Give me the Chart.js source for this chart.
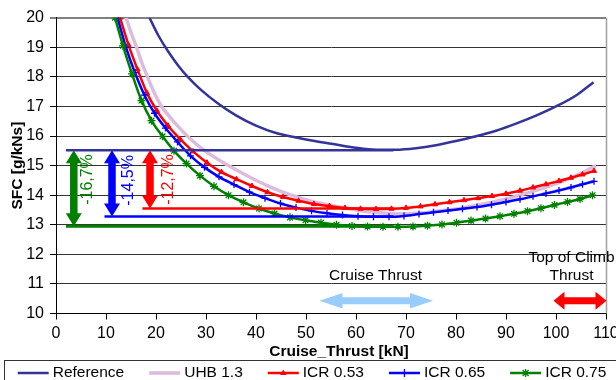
<!DOCTYPE html>
<html><head><meta charset="utf-8">
<script src="https://cdn.jsdelivr.net/npm/chart.js@4.4.0/dist/chart.umd.min.js"></script>
<style>html,body{margin:0;padding:0;background:#fff;}#wrap{width:616px;height:380px;}</style>
</head><body><div id="wrap"><canvas id="c" width="616" height="380"></canvas></div>
<script>
// ---- data ----
const xTickValues = [0,10,20,30,40,50,60,70,80,90,100,110];
const yTickValues = [10,11,12,13,14,15,16,17,18,19,20];
const seriesNames = ['Reference','UHB 1.3','ICR 0.53','ICR 0.65','ICR 0.75'];

const refX = [18.7,20.5,22.5,24.5,26.3,29.0,32.4,36.0,40.0,44.0,48.0,52.0,56.0,60.0,64.0,68.0,72.0,76.0,80.0,84.0,88.0,92.0,96.0,100.0,104.0,107.5];
const refY = [20.0,19.39,18.84,18.37,18.01,17.56,17.1,16.7,16.35,16.1,15.95,15.82,15.71,15.6,15.54,15.54,15.59,15.69,15.83,15.99,16.18,16.42,16.69,17.0,17.37,17.82];

const uhbX = [14.0,15.0,16.1,17.2,18.3,19.6,21.1,22.5,24.0,27.0,30.0,33.0,36.0,39.0,42.0,45.0,48.0,51.0,54.0,57.0,60.0,63.0,66.0,69.0,72.0,75.0,78.0,81.0,84.0,87.0,90.0,93.0,96.0,99.0,102.0,105.0,108.0];
const uhbY = [20.0,19.5,19.0,18.46,18.0,17.48,17.0,16.7,16.4,15.88,15.47,15.15,14.86,14.59,14.34,14.13,13.95,13.8,13.69,13.59,13.5,13.43,13.39,13.37,13.39,13.43,13.49,13.56,13.65,13.75,13.87,14.01,14.16,14.33,14.52,14.74,15.0];

const icr53X = [12.8,14.5,16.3,18.2,20.2,22.4,24.8,27.4,30.2,33.1,36.1,39.2,42.3,45.4,48.5,51.6,54.7,57.8,60.9,64.0,67.1,70.0,72.9,75.8,78.7,81.6,84.4,87.2,90.0,92.8,95.4,98.0,100.6,103.0,105.3,107.6];
const icr53Y = [20.0,19.08,18.25,17.45,16.85,16.35,15.9,15.48,15.1,14.78,14.54,14.31,14.1,13.94,13.81,13.7,13.63,13.57,13.54,13.53,13.54,13.57,13.62,13.69,13.76,13.83,13.9,13.97,14.05,14.15,14.26,14.37,14.48,14.59,14.7,14.82];

const icr65X = [12.3,14.0,15.8,17.7,19.7,21.9,24.3,26.9,29.7,32.6,35.6,38.7,41.8,44.9,48.0,51.1,54.2,57.3,60.4,63.5,66.6,69.6,72.6,75.5,78.4,81.3,84.2,87.1,90.0,92.8,95.4,98.0,100.6,103.0,105.3,107.6];
const icr65Y = [20.0,19.0,18.14,17.38,16.77,16.27,15.8,15.33,14.94,14.62,14.36,14.1,13.9,13.72,13.58,13.47,13.39,13.33,13.29,13.27,13.27,13.3,13.36,13.42,13.48,13.54,13.6,13.68,13.77,13.86,13.96,14.06,14.16,14.26,14.37,14.47];

const icr75X = [11.8,13.4,15.2,17.1,19.1,21.3,23.6,26.1,28.8,31.6,34.5,37.5,40.6,43.7,46.8,49.9,53.0,56.1,59.2,62.3,65.4,68.4,71.4,74.3,77.2,80.1,83.0,85.9,88.8,91.6,94.3,97.0,99.7,102.3,104.8,107.3];
const icr75Y = [20.0,19.05,18.1,17.2,16.52,15.99,15.5,15.07,14.66,14.3,14.0,13.76,13.55,13.38,13.25,13.15,13.07,13.0,12.96,12.94,12.93,12.93,12.94,12.97,13.01,13.07,13.14,13.21,13.29,13.37,13.46,13.56,13.67,13.77,13.87,14.0];

// annotation values (SFC levels of the minima and their drops)
const levelValues = [15.52, 13.55, 13.28, 12.95];   // Reference, ICR 0.53, ICR 0.65, ICR 0.75
const levelStartX = [2.0, 17.3, 9.7, 2.0];
const levelEndX   = [67.5, 67.5, 67.5, 67.5];
const dropLabels  = ['-12,7%','-14,5%','-16,7%'];   // ICR 0.53, 0.65, 0.75
const dropArrowX  = [18.8, 11.2, 3.56];
const dropLabelX  = [22.6, 14.6, 6.3];
const dropLabelY  = [14.53, 14.5, 14.53];
const cruiseRange = [52.7, 75.4];
const climbRange  = [99.5, 110.1];
const rangeArrowY = 10.43;
const cruiseText  = ['Cruise Thrust'];
const cruiseTextPos = [63.9, 11.28];
const climbText   = ['Top of Climb','Thrust'];
const climbTextPos = [103.1, 11.9, 11.28];
const xTitle = 'Cruise_Thrust [kN]';
const yTitle = 'SFC [g/kNs]';

// ---- styles ----
const FONT = "'Liberation Sans', Arial, sans-serif";
const C_REF = '#333399', C_UHB = '#DDBBDD', C_RED = '#FF0000', C_BLUE = '#0000FF', C_GREEN = '#008000';
const levelColors = [C_REF, C_RED, C_BLUE, C_GREEN];
const dropColors = [C_RED, C_BLUE, C_GREEN];

const pts = (xs, ys) => xs.map((v, i) => ({x: v, y: ys[i]}));

const datasets = [];
levelValues.forEach((v, i) => {
  datasets.push({
    label: 'level' + i, data: [{x: levelStartX[i], y: v}, {x: levelEndX[i], y: v}],
    borderColor: levelColors[i], borderWidth: i === 3 ? 3 : 2.5, pointRadius: 0, order: 0
  });
});
datasets.push({label: seriesNames[4], data: pts(icr75X, icr75Y), borderColor: C_GREEN, backgroundColor: C_GREEN,
  borderWidth: 2.5, pointStyle: 'star', pointRadius: 4, pointBorderWidth: 1.3, pointBorderColor: C_GREEN, order: 1});
datasets.push({label: seriesNames[3], data: pts(icr65X, icr65Y), borderColor: C_BLUE, backgroundColor: C_BLUE,
  borderWidth: 2.5, pointStyle: 'cross', pointRadius: 3.5, pointBorderWidth: 1.3, pointBorderColor: C_BLUE, order: 2});
datasets.push({label: seriesNames[2], data: pts(icr53X, icr53Y), borderColor: C_RED, backgroundColor: C_RED,
  borderWidth: 2.5, pointStyle: 'triangle', pointRadius: 3, pointBorderWidth: 1, pointBorderColor: C_RED, order: 3});
datasets.push({label: seriesNames[1], data: pts(uhbX, uhbY), borderColor: C_UHB, borderWidth: 3.5, pointRadius: 0, order: 4});
datasets.push({label: seriesNames[0], data: pts(refX, refY), borderColor: C_REF, borderWidth: 2.5, pointRadius: 0, order: 5});

function vArrow(ctx, cx, y1, y2, shaft, head, hl) {
  ctx.beginPath();
  ctx.moveTo(cx, y1);
  ctx.lineTo(cx + head/2, y1 + hl); ctx.lineTo(cx + shaft/2, y1 + hl);
  ctx.lineTo(cx + shaft/2, y2 - hl); ctx.lineTo(cx + head/2, y2 - hl);
  ctx.lineTo(cx, y2);
  ctx.lineTo(cx - head/2, y2 - hl); ctx.lineTo(cx - shaft/2, y2 - hl);
  ctx.lineTo(cx - shaft/2, y1 + hl); ctx.lineTo(cx - head/2, y1 + hl);
  ctx.closePath(); ctx.fill();
}
function hArrow(ctx, x1, x2, cy, shaft, head, hl) {
  ctx.beginPath();
  ctx.moveTo(x1, cy);
  ctx.lineTo(x1 + hl, cy - head/2); ctx.lineTo(x1 + hl, cy - shaft/2);
  ctx.lineTo(x2 - hl, cy - shaft/2); ctx.lineTo(x2 - hl, cy - head/2);
  ctx.lineTo(x2, cy);
  ctx.lineTo(x2 - hl, cy + head/2); ctx.lineTo(x2 - hl, cy + shaft/2);
  ctx.lineTo(x1 + hl, cy + shaft/2); ctx.lineTo(x1 + hl, cy + head/2);
  ctx.closePath(); ctx.fill();
}
function marker(ctx, style, x, y, color) {
  ctx.save(); ctx.strokeStyle = color; ctx.fillStyle = color; ctx.lineWidth = 1.3;
  ctx.beginPath();
  if (style === 'triangle') {
    ctx.moveTo(x, y - 3.5); ctx.lineTo(x + 3.2, y + 2); ctx.lineTo(x - 3.2, y + 2); ctx.closePath(); ctx.fill();
  } else if (style === 'cross') {
    ctx.moveTo(x, y - 4); ctx.lineTo(x, y + 4); ctx.stroke();
  } else if (style === 'star') {
    ctx.moveTo(x - 4, y); ctx.lineTo(x + 4, y);
    ctx.moveTo(x, y - 4); ctx.lineTo(x, y + 4);
    ctx.moveTo(x - 3, y - 3); ctx.lineTo(x + 3, y + 3);
    ctx.moveTo(x - 3, y + 3); ctx.lineTo(x + 3, y - 3); ctx.stroke();
  }
  ctx.restore();
}

const annotPlugin = {
  id: 'annot',
  afterDatasetsDraw(chart) {
    const {ctx, chartArea: ca, scales: {x, y}} = chart;
    ctx.save();
    ctx.strokeStyle = '#a0a0a0'; ctx.lineWidth = 1.5;
    ctx.beginPath(); ctx.moveTo(ca.right + 0.5, ca.top); ctx.lineTo(ca.right + 0.5, ca.bottom); ctx.stroke();
    const yTop = y.getPixelForValue(levelValues[0]);
    dropArrowX.forEach((xv, i) => {
      ctx.fillStyle = dropColors[i];
      vArrow(ctx, x.getPixelForValue(xv), yTop, y.getPixelForValue(levelValues[i + 1]), 7.5, 16, 13);
    });
    ctx.font = '16px ' + FONT; ctx.textAlign = 'center'; ctx.textBaseline = 'middle';
    dropLabels.forEach((t, i) => {
      ctx.save();
      ctx.translate(x.getPixelForValue(dropLabelX[i]), y.getPixelForValue(dropLabelY[i]));
      ctx.rotate(-Math.PI / 2);
      ctx.fillStyle = dropColors[i];
      ctx.fillText(t, 0, 0);
      ctx.restore();
    });
    const ay = y.getPixelForValue(rangeArrowY);
    ctx.fillStyle = '#99CCFF';
    hArrow(ctx, x.getPixelForValue(cruiseRange[0]), x.getPixelForValue(cruiseRange[1]), ay, 7, 15.5, 23);
    ctx.fillStyle = C_RED;
    hArrow(ctx, x.getPixelForValue(climbRange[0]), x.getPixelForValue(climbRange[1]), ay, 7, 18, 11);
    ctx.fillStyle = '#000'; ctx.font = '15.5px ' + FONT;
    ctx.fillText(cruiseText[0], x.getPixelForValue(cruiseTextPos[0]), y.getPixelForValue(cruiseTextPos[1]));
    ctx.fillText(climbText[0], x.getPixelForValue(climbTextPos[0]), y.getPixelForValue(climbTextPos[1]));
    ctx.fillText(climbText[1], x.getPixelForValue(climbTextPos[0]), y.getPixelForValue(climbTextPos[2]));
    ctx.restore();
  },
  afterDraw(chart) {
    const {ctx, chartArea: ca} = chart;
    ctx.save();
    ctx.fillStyle = '#000'; ctx.font = 'bold 15.5px ' + FONT; ctx.textAlign = 'center'; ctx.textBaseline = 'middle';
    ctx.fillText(xTitle, (ca.left + ca.right) / 2 + 8, 352);
    ctx.strokeStyle = '#333'; ctx.lineWidth = 1;
    ctx.strokeRect(4.5, 360.5, 700, 40);
    const items = [
      {name: seriesNames[0], color: C_REF, w: 2.5, mk: null},
      {name: seriesNames[1], color: C_UHB, w: 3.5, mk: null},
      {name: seriesNames[2], color: C_RED, w: 2.5, mk: 'triangle'},
      {name: seriesNames[3], color: C_BLUE, w: 2.5, mk: 'cross'},
      {name: seriesNames[4], color: C_GREEN, w: 2.5, mk: 'star'}
    ];
    ctx.font = '15.5px ' + FONT; ctx.textAlign = 'left';
    let lx = 17.7; const ly = 373;
    items.forEach(it => {
      ctx.strokeStyle = it.color; ctx.lineWidth = it.w;
      ctx.beginPath(); ctx.moveTo(lx, ly); ctx.lineTo(lx + 31, ly); ctx.stroke();
      if (it.mk) marker(ctx, it.mk, lx + 15.5, ly, it.color);
      ctx.fillStyle = '#000';
      ctx.fillText(it.name, lx + 35, ly);
      lx += 35 + ctx.measureText(it.name).width + 25;
    });
    ctx.restore();
  }
};

new Chart(document.getElementById('c'), {
  type: 'line',
  data: {datasets},
  options: {
    responsive: false, animation: false, devicePixelRatio: 1,
    layout: {padding: {left: 0, right: 10, top: 17.7, bottom: 19.5}},
    plugins: {legend: {display: false}, tooltip: {enabled: false}},
    elements: {line: {cubicInterpolationMode: 'monotone'}},
    scales: {
      x: {
        type: 'linear', min: 0, max: 110,
        afterBuildTicks: s => { s.ticks = xTickValues.map(v => ({value: v})); },
        ticks: {font: {family: FONT, size: 16}, color: '#000', padding: 4, maxRotation: 0, autoSkip: false},
        grid: {drawOnChartArea: false, drawTicks: true, tickLength: 6, tickColor: '#000'},
        border: {color: '#000', width: 1},
        afterFit: s => { s.height = 47; s.paddingLeft = 0; s.paddingRight = 0; }
      },
      y: {
        type: 'linear', min: 10, max: 20,
        afterBuildTicks: s => { s.ticks = yTickValues.map(v => ({value: v})); },
        ticks: {font: {family: FONT, size: 16}, color: '#000', padding: 6},
        grid: {
          color: c => (c.tick && c.tick.value === 20) ? '#808080' : '#333',
          lineWidth: c => (c.tick && c.tick.value === 20) ? 2 : 1,
          tickLength: 6, tickColor: '#000', tickWidth: 1
        },
        border: {color: '#000', width: 1},
        title: {display: true, text: yTitle, font: {family: FONT, size: 15.5, weight: 'bold'}, color: '#000', padding: {top: 8, bottom: 0}},
        afterFit: s => { s.width = 56; s.paddingTop = 0; s.paddingBottom = 0; }
      }
    }
  },
  plugins: [annotPlugin]
});
</script>
</body></html>
